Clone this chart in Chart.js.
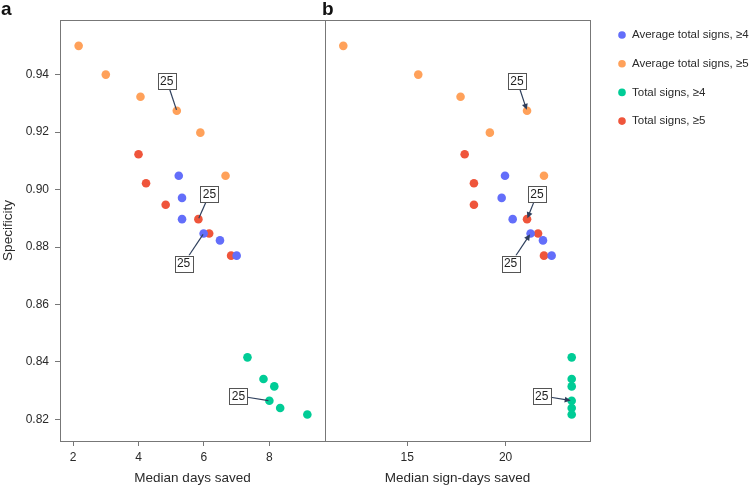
<!DOCTYPE html>
<html>
<head>
<meta charset="utf-8">
<script src="https://cdn.jsdelivr.net/npm/chart.js@4.4.0/dist/chart.umd.min.js"></script>
<style>
  html, body { margin: 0; padding: 0; background: #fff; }
  #wrap { position: relative; width: 754px; height: 486px; }
  canvas { position: absolute; left: 0; top: 0; }
</style>
</head>
<body>
<div id="wrap">
  <canvas id="panel-a" width="754" height="486"></canvas>
  <canvas id="panel-b" width="754" height="486"></canvas>
</div>
<script>
// series, in legend order
var seriesNames = ['Average total signs, \u22654', 'Average total signs, \u22655', 'Total signs, \u22654', 'Total signs, \u22655'];
var seriesColors = ['#636EFA', '#FFA15A', '#00CC96', '#EF553B'];

// specificity per point (shared y)
var specAvg4 = [0.9048, 0.8971, 0.8897, 0.8847, 0.8823, 0.8770];
var specAvg5 = [0.9500, 0.9400, 0.9323, 0.9274, 0.9198, 0.9048];
var specTot4 = [0.8416, 0.8341, 0.8315, 0.8265, 0.8240, 0.8217];
var specTot5 = [0.9123, 0.9022, 0.8947, 0.8897, 0.8847, 0.8770];

// panel a: median days saved
var daysAvg4 = [5.23, 5.33, 5.33, 5.99, 6.49, 7.00];
var daysAvg5 = [2.17, 3.00, 4.06, 5.17, 5.89, 6.66];
var daysTot4 = [7.33, 7.82, 8.15, 8.00, 8.33, 9.16];
var daysTot5 = [4.00, 4.23, 4.83, 5.83, 6.16, 6.83];

// panel b: median sign-days saved
var signDaysAvg4 = [19.97, 19.80, 20.36, 21.27, 21.90, 22.34];
var signDaysAvg5 = [11.75, 15.56, 17.71, 21.09, 19.20, 21.95];
var signDaysTot4 = [23.36, 23.36, 23.36, 23.36, 23.36, 23.36];
var signDaysTot5 = [17.92, 18.39, 18.39, 21.09, 21.65, 21.95];

var specTicks = [0.82, 0.84, 0.86, 0.88, 0.90, 0.92, 0.94];
var daysTicks = [2, 4, 6, 8];
var signDaysTicks = [15, 20];

// the point labelled "25" in each series
var labelIndex = 3;
var labelText = '25';

var specs = [specAvg4, specAvg5, specTot4, specTot5];

function makeDatasets(xs) {
  return xs.map(function(x, s) {
    return {
      label: seriesNames[s],
      data: x.map(function(v, i) { return {x: v, y: specs[s][i]}; }),
      backgroundColor: seriesColors[s],
      borderWidth: 0,
      pointRadius: 4.3,
      pointHoverRadius: 4.3
    };
  });
}

var textColor = '#2a2a2a';
var lineColor = '#777';
var fontName = "'Liberation Sans', Arial, sans-serif";

var framePlugin = {
  id: 'frame',
  afterDatasetsDraw: function(chart) {
    var a = chart.chartArea, ctx = chart.ctx;
    ctx.save();
    ctx.strokeStyle = lineColor;
    ctx.lineWidth = 1;
    ctx.strokeRect(Math.round(a.left) + 0.5, Math.round(a.top) + 0.5,
      Math.round(a.right - a.left), Math.round(a.bottom - a.top));
    ctx.restore();
  }
};

var tagPlugin = {
  id: 'tag',
  afterDraw: function(chart, args, opts) {
    var ctx = chart.ctx;
    ctx.save();
    ctx.fillStyle = '#111';
    ctx.font = "bold 19px " + fontName;
    ctx.textBaseline = 'alphabetic';
    ctx.fillText(opts.text, opts.x, opts.y);
    ctx.restore();
  }
};

var calloutPlugin = {
  id: 'callout',
  afterDatasetsDraw: function(chart, args, opts) {
    var ctx = chart.ctx;
    ctx.save();
    opts.items.forEach(function(it) {
      var el = chart.getDatasetMeta(it.series).data[labelIndex];
      var px = el.x, py = el.y;
      var bx = px + it.dx, by = py + it.dy;
      var w = 18, h = 16;
      var vx = px - bx, vy = py - by;
      var t = Math.min((w / 2) / Math.max(Math.abs(vx), 1e-6), (h / 2) / Math.max(Math.abs(vy), 1e-6));
      var sx = bx + vx * t, sy = by + vy * t;
      var len = Math.sqrt(vx * vx + vy * vy);
      var ux = vx / len, uy = vy / len;
      var ex = px - ux * 1, ey = py - uy * 1;
      ctx.strokeStyle = '#2E3F5C';
      ctx.fillStyle = '#2E3F5C';
      ctx.lineWidth = 1.2;
      ctx.beginPath();
      ctx.moveTo(sx, sy);
      ctx.lineTo(opts.arrow ? ex - ux * 4 : ex, opts.arrow ? ey - uy * 4 : ey);
      ctx.stroke();
      if (opts.arrow) {
        ctx.beginPath();
        ctx.moveTo(ex, ey);
        ctx.lineTo(ex - ux * 6 - uy * 3, ey - uy * 6 + ux * 3);
        ctx.lineTo(ex - ux * 6 + uy * 3, ey - uy * 6 - ux * 3);
        ctx.closePath();
        ctx.fill();
      }
      ctx.fillStyle = '#fff';
      ctx.fillRect(bx - w / 2, by - h / 2, w, h);
      ctx.strokeStyle = '#555';
      ctx.lineWidth = 1;
      ctx.strokeRect(Math.round(bx - w / 2) + 0.5, Math.round(by - h / 2) + 0.5, w, h);
      ctx.fillStyle = '#222';
      ctx.font = "12px " + fontName;
      ctx.textAlign = 'center';
      ctx.textBaseline = 'middle';
      ctx.fillText(labelText, bx, by + 0.5);
    });
    ctx.restore();
  }
};

var legendPlugin = {
  id: 'sideLegend',
  afterDraw: function(chart, args, opts) {
    var ctx = chart.ctx;
    ctx.save();
    ctx.font = "11.5px " + fontName;
    ctx.textBaseline = 'middle';
    chart.data.datasets.forEach(function(ds, i) {
      var y = opts.y + i * opts.step;
      ctx.fillStyle = ds.backgroundColor;
      ctx.beginPath();
      ctx.arc(opts.x, y, 3.8, 0, Math.PI * 2);
      ctx.fill();
      ctx.fillStyle = textColor;
      ctx.fillText(ds.label, opts.x + 10, y);
    });
    ctx.restore();
  }
};

var specMin = 0.8125, specMax = 0.959;

function xScale(min, max, ticks, title) {
  return {
    type: 'linear',
    min: min,
    max: max,
    afterBuildTicks: function(s) { s.ticks = ticks.map(function(v) { return {value: v}; }); },
    afterFit: function(s) { s.height = 45; },
    grid: { drawOnChartArea: false, drawTicks: true, tickLength: 5, color: lineColor },
    border: { display: false },
    ticks: { color: textColor, font: { family: fontName, size: 12 }, padding: 4 },
    title: { display: true, text: title, color: textColor, font: { family: fontName, size: 13.5 }, padding: 0 }
  };
}

Chart.defaults.font.family = fontName;

new Chart(document.getElementById('panel-a'), {
  type: 'scatter',
  data: { datasets: makeDatasets([daysAvg4, daysAvg5, daysTot4, daysTot5]) },
  plugins: [framePlugin, tagPlugin, calloutPlugin],
  options: {
    responsive: false,
    animation: false,
    events: [],
    layout: { padding: { left: 0, right: 754 - 325, top: 20, bottom: 0 } },
    scales: {
      x: xScale(1.6, 9.7, daysTicks, 'Median days saved'),
      y: {
        type: 'linear',
        min: specMin,
        max: specMax,
        afterBuildTicks: function(s) { s.ticks = specTicks.map(function(v) { return {value: v}; }); },
        afterFit: function(s) { s.width = 60; },
        grid: { drawOnChartArea: false, drawTicks: true, tickLength: 5, color: lineColor },
        border: { display: false },
        ticks: { color: textColor, font: { family: fontName, size: 12 }, padding: 6,
          callback: function(v) { return v.toFixed(2); } },
        title: { display: true, text: 'Specificity', color: textColor, font: { family: fontName, size: 13.5 }, padding: 0 }
      }
    },
    plugins: {
      legend: { display: false },
      tooltip: { enabled: false },
      tag: { text: 'a', x: 1, y: 15 },
      callout: { arrow: false, items: [
        { series: 1, dx: -10, dy: -30 },
        { series: 3, dx: 11, dy: -25 },
        { series: 0, dx: -20, dy: 30 },
        { series: 2, dx: -31, dy: -5 }
      ] }
    }
  }
});

new Chart(document.getElementById('panel-b'), {
  type: 'scatter',
  data: { datasets: makeDatasets([signDaysAvg4, signDaysAvg5, signDaysTot4, signDaysTot5]) },
  plugins: [framePlugin, tagPlugin, calloutPlugin, legendPlugin],
  options: {
    responsive: false,
    animation: false,
    events: [],
    layout: { padding: { left: 325, right: 754 - 590, top: 20, bottom: 0 } },
    scales: {
      x: xScale(10.82, 24.29, signDaysTicks, 'Median sign-days saved'),
      y: { type: 'linear', min: specMin, max: specMax, display: false }
    },
    plugins: {
      legend: { display: false },
      tooltip: { enabled: false },
      tag: { text: 'b', x: 322, y: 15 },
      callout: { arrow: true, items: [
        { series: 1, dx: -10, dy: -30 },
        { series: 3, dx: 10, dy: -25 },
        { series: 0, dx: -20, dy: 30 },
        { series: 2, dx: -30, dy: -5 }
      ] },
      sideLegend: { x: 622, y: 35, step: 28.7 }
    }
  }
});
</script>
</body>
</html>
